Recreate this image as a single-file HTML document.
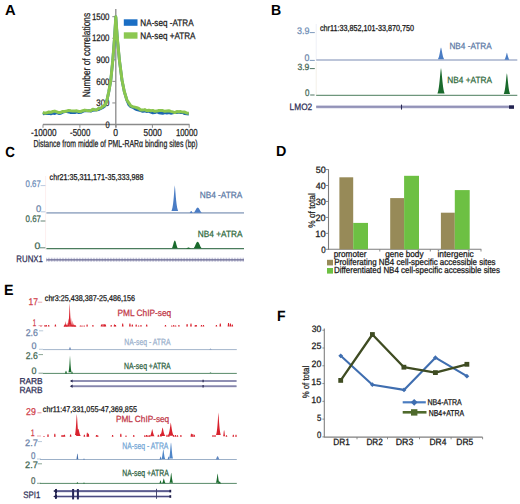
<!DOCTYPE html>
<html><head><meta charset="utf-8"><style>
html,body{margin:0;padding:0;background:#fff;}
svg{display:block;font-family:"Liberation Sans", sans-serif;text-rendering:geometricPrecision;}

</style></head><body>
<svg width="520" height="504" viewBox="0 0 520 504">
<g >
<rect width="520" height="504" fill="#fff"/>
<text x="4.93" y="14.60" font-size="14.53" fill="#000" stroke="#000" stroke-width="0" font-weight="bold" textLength="10.66" lengthAdjust="spacingAndGlyphs">A</text>
<text x="271.06" y="14.60" font-size="14.53" fill="#000" stroke="#000" stroke-width="0" font-weight="bold" textLength="10.18" lengthAdjust="spacingAndGlyphs">B</text>
<text x="5.35" y="157.40" font-size="14.53" fill="#000" stroke="#000" stroke-width="0" font-weight="bold" textLength="9.61" lengthAdjust="spacingAndGlyphs">C</text>
<text x="276.04" y="155.80" font-size="14.68" fill="#000" stroke="#000" stroke-width="0" font-weight="bold" textLength="10.36" lengthAdjust="spacingAndGlyphs">D</text>
<text x="3.95" y="294.90" font-size="14.83" fill="#000" stroke="#000" stroke-width="0" font-weight="bold" textLength="9.51" lengthAdjust="spacingAndGlyphs">E</text>
<text x="276.96" y="320.80" font-size="14.97" fill="#000" stroke="#000" stroke-width="0" font-weight="bold" textLength="8.55" lengthAdjust="spacingAndGlyphs">F</text>
<line x1="115.8" y1="9" x2="115.8" y2="127.5" stroke="#8a8a8a" stroke-width="1.3"/>
<line x1="43" y1="124.5" x2="189.5" y2="124.5" stroke="#8a8a8a" stroke-width="1.3"/>
<line x1="112.3" y1="124.5" x2="115.8" y2="124.5" stroke="#8a8a8a" stroke-width="1"/>
<text x="105.51" y="127.70" font-size="9.45" fill="#222222" stroke="#222222" stroke-width="0.25" font-weight="normal" textLength="4.19" lengthAdjust="spacingAndGlyphs">0</text>
<line x1="112.3" y1="102.94" x2="115.8" y2="102.94" stroke="#8a8a8a" stroke-width="1"/>
<text x="96.30" y="106.14" font-size="9.45" fill="#222222" stroke="#222222" stroke-width="0.25" font-weight="normal" textLength="13.21" lengthAdjust="spacingAndGlyphs">300</text>
<line x1="112.3" y1="81.38" x2="115.8" y2="81.38" stroke="#8a8a8a" stroke-width="1"/>
<text x="96.19" y="84.58" font-size="9.45" fill="#222222" stroke="#222222" stroke-width="0.25" font-weight="normal" textLength="13.32" lengthAdjust="spacingAndGlyphs">600</text>
<line x1="112.3" y1="59.82000000000001" x2="115.8" y2="59.82000000000001" stroke="#8a8a8a" stroke-width="1"/>
<text x="96.23" y="63.02" font-size="9.45" fill="#222222" stroke="#222222" stroke-width="0.25" font-weight="normal" textLength="13.28" lengthAdjust="spacingAndGlyphs">900</text>
<line x1="112.3" y1="38.260000000000005" x2="115.8" y2="38.260000000000005" stroke="#8a8a8a" stroke-width="1"/>
<text x="91.90" y="41.46" font-size="9.45" fill="#222222" stroke="#222222" stroke-width="0.25" font-weight="normal" textLength="17.61" lengthAdjust="spacingAndGlyphs">1200</text>
<line x1="112.3" y1="16.700000000000003" x2="115.8" y2="16.700000000000003" stroke="#8a8a8a" stroke-width="1"/>
<text x="91.90" y="19.90" font-size="9.45" fill="#222222" stroke="#222222" stroke-width="0.25" font-weight="normal" textLength="17.61" lengthAdjust="spacingAndGlyphs">1500</text>
<line x1="43" y1="124.5" x2="43" y2="127.8" stroke="#8a8a8a" stroke-width="1"/>
<line x1="79.9" y1="124.5" x2="79.9" y2="127.8" stroke="#8a8a8a" stroke-width="1"/>
<line x1="116" y1="124.5" x2="116" y2="127.8" stroke="#8a8a8a" stroke-width="1"/>
<line x1="152.4" y1="124.5" x2="152.4" y2="127.8" stroke="#8a8a8a" stroke-width="1"/>
<line x1="189.2" y1="124.5" x2="189.2" y2="127.8" stroke="#8a8a8a" stroke-width="1"/>
<text x="31.04" y="136.30" font-size="10.17" fill="#222222" stroke="#222222" stroke-width="0.25" font-weight="normal" textLength="25.48" lengthAdjust="spacingAndGlyphs">-10000</text>
<text x="70.05" y="136.30" font-size="10.17" fill="#222222" stroke="#222222" stroke-width="0.25" font-weight="normal" textLength="20.26" lengthAdjust="spacingAndGlyphs">-5000</text>
<text x="113.36" y="136.30" font-size="10.17" fill="#222222" stroke="#222222" stroke-width="0.25" font-weight="normal" textLength="4.77" lengthAdjust="spacingAndGlyphs">0</text>
<text x="143.57" y="136.30" font-size="10.17" fill="#222222" stroke="#222222" stroke-width="0.25" font-weight="normal" textLength="18.25" lengthAdjust="spacingAndGlyphs">5000</text>
<text x="175.91" y="136.30" font-size="10.17" fill="#222222" stroke="#222222" stroke-width="0.25" font-weight="normal" textLength="21.70" lengthAdjust="spacingAndGlyphs">10000</text>
<text x="33.43" y="147.00" font-size="10.17" fill="#1a1a1a" stroke="#1a1a1a" stroke-width="0.25" font-weight="normal" textLength="164.20" lengthAdjust="spacingAndGlyphs">Distance from middle of PML-RARα binding sites (bp)</text>
<text transform="translate(89.70 97.28) rotate(-90)" x="0" y="0" font-size="10.61" fill="#1a1a1a" stroke="#1a1a1a" stroke-width="0.25" font-weight="normal" textLength="84.39" lengthAdjust="spacingAndGlyphs">Number of correlations</text>
<path d="M42.8,113.8 L44.8,113.6 L46.8,113.7 L48.8,113.5 L50.8,113.9 L52.8,113.2 L54.8,113.6 L56.8,112.6 L58.8,113.5 L60.8,113.3 L62.8,112.2 L64.8,111.7 L66.8,111.7 L68.8,112.0 L70.8,112.7 L72.8,112.6 L74.8,112.6 L76.8,111.9 L78.8,112.6 L80.8,112.4 L82.8,111.5 L84.8,110.7 L86.8,110.8 L88.8,110.6 L90.8,111.2 L92.8,110.3 L94.8,110.2 L96.8,109.8 L98.8,109.6 L100.8,108.6 L102.8,107.5 L104.8,106.2 L106.8,101.1 L107.8,96.4 L108.8,91.7 L110.8,80.2 L112.8,60.2 L114.5,38.2 L115.8,17.0 L117.3,38.2 L119.4,60.2 L122.0,80.2 L124.3,91.7 L125.8,96.7 L126.8,100.0 L128.8,104.7 L130.8,106.7 L132.8,107.3 L134.8,108.7 L136.8,109.6 L138.8,110.1 L140.8,110.6 L142.8,111.4 L144.8,110.8 L146.8,111.7 L148.8,111.2 L150.8,112.2 L152.8,112.8 L154.8,112.6 L156.8,111.8 L158.8,112.8 L160.8,113.0 L162.8,113.3 L164.8,112.7 L166.8,113.1 L168.8,112.6 L170.8,113.3 L172.8,112.9 L174.8,112.5 L176.8,112.5 L178.8,112.2 L180.8,112.6 L182.8,112.5 L184.8,113.7 L186.8,113.9 L188.8,114.0" fill="none" stroke="#1d68b0" stroke-width="2.8" stroke-linejoin="round"/>
<path d="M42.8,112.5 L44.8,113.2 L46.8,112.8 L48.8,112.0 L50.8,112.3 L52.8,111.5 L54.8,111.1 L56.8,111.8 L58.8,112.6 L60.8,112.4 L62.8,111.4 L64.8,111.5 L66.8,111.0 L68.8,110.4 L70.8,110.7 L72.8,110.9 L74.8,110.9 L76.8,110.8 L78.8,111.5 L80.8,111.5 L82.8,110.7 L84.8,110.1 L86.8,110.5 L88.8,110.7 L90.8,110.8 L92.8,109.3 L94.8,109.8 L96.8,110.0 L98.8,108.2 L100.8,108.2 L102.8,106.4 L104.8,105.4 L106.8,100.9 L107.8,96.2 L108.8,91.5 L110.8,80.0 L112.8,60.0 L114.5,38.0 L115.8,16.8 L117.3,38.0 L119.4,60.0 L122.0,80.0 L124.3,91.5 L125.8,96.5 L126.8,99.8 L128.8,102.8 L130.8,105.9 L132.8,106.7 L134.8,107.1 L136.8,107.7 L138.8,108.5 L140.8,109.9 L142.8,110.1 L144.8,109.6 L146.8,110.7 L148.8,110.2 L150.8,110.8 L152.8,110.4 L154.8,111.3 L156.8,111.1 L158.8,110.5 L160.8,110.5 L162.8,110.6 L164.8,111.3 L166.8,111.0 L168.8,110.7 L170.8,111.4 L172.8,111.9 L174.8,112.6 L176.8,111.6 L178.8,111.8 L180.8,111.6 L182.8,112.1 L184.8,112.1 L186.8,113.1 L188.8,113.2" fill="none" stroke="#8ac64e" stroke-width="3.0" stroke-linejoin="round"/>
<rect x="123.8" y="19.3" width="13.7" height="6.5" fill="#1a6ec4"/>
<rect x="123.8" y="32.3" width="13.7" height="6.4" fill="#8cc852"/>
<text x="140.34" y="26.40" font-size="9.59" fill="#1a1a1a" stroke="#1a1a1a" stroke-width="0.25" font-weight="normal" textLength="53.28" lengthAdjust="spacingAndGlyphs">NA-seq -ATRA</text>
<text x="140.34" y="39.00" font-size="9.59" fill="#1a1a1a" stroke="#1a1a1a" stroke-width="0.25" font-weight="normal" textLength="55.18" lengthAdjust="spacingAndGlyphs">NA-seq +ATRA</text>
<line x1="316.2" y1="24" x2="316.2" y2="61" stroke="#eef0f6" stroke-width="1"/>
<line x1="316.2" y1="62" x2="316.2" y2="96" stroke="#f3f0e8" stroke-width="1"/>
<text x="297.06" y="33.50" font-size="9.45" fill="#6f8db5" stroke="#6f8db5" stroke-width="0.25" font-weight="normal" textLength="12.47" lengthAdjust="spacingAndGlyphs">3.9</text>
<line x1="309.8" y1="32.6" x2="314.8" y2="32.6" stroke="#6f8db5" stroke-width="0.9"/>
<text x="319.90" y="30.60" font-size="8.72" fill="#141414" stroke="#141414" stroke-width="0.25" font-weight="normal" textLength="94.19" lengthAdjust="spacingAndGlyphs">chr11:33,852,101-33,870,750</text>
<text x="304.56" y="61.10" font-size="9.59" fill="#6c86aa" stroke="#6c86aa" stroke-width="0.25" font-weight="normal" textLength="4.89" lengthAdjust="spacingAndGlyphs">0</text>
<line x1="309.8" y1="60.4" x2="314.8" y2="60.4" stroke="#6f8db5" stroke-width="0.9"/>
<line x1="316.2" y1="60.0" x2="517.3" y2="60.0" stroke="#a6b2cc" stroke-width="1.6"/>
<path d="M437.80,59.25 L438.12,58.78 L438.44,58.12 L438.76,57.26 L439.08,56.14 L439.40,54.77 L439.72,53.18 L440.04,51.44 L440.36,49.70 L440.68,48.21 L441.00,47.40 L441.32,48.21 L441.64,49.70 L441.96,51.44 L442.28,53.18 L442.60,54.77 L442.92,56.14 L443.24,57.26 L443.56,58.12 L443.88,58.78 L444.20,59.25 Z" fill="#4a7cc4" stroke="none" stroke-width="1" />
<path d="M504.40,59.65 L504.65,59.38 L504.90,59.00 L505.15,58.50 L505.40,57.85 L505.65,57.06 L505.90,56.14 L506.15,55.13 L506.40,54.13 L506.65,53.27 L506.90,52.80 L507.15,53.27 L507.40,54.13 L507.65,55.13 L507.90,56.14 L508.15,57.06 L508.40,57.85 L508.65,58.50 L508.90,59.00 L509.15,59.38 L509.40,59.65 Z" fill="#4a7cc4" stroke="none" stroke-width="1" />
<text x="449.44" y="48.80" font-size="9.01" fill="#5c7aa6" stroke="#5c7aa6" stroke-width="0.25" font-weight="normal" textLength="42.18" lengthAdjust="spacingAndGlyphs">NB4 -ATRA</text>
<text x="297.47" y="70.00" font-size="9.01" fill="#3f6450" stroke="#3f6450" stroke-width="0.25" font-weight="normal" textLength="11.93" lengthAdjust="spacingAndGlyphs">3.9</text>
<line x1="309.8" y1="68.6" x2="314.8" y2="68.6" stroke="#3d6650" stroke-width="0.9"/>
<text x="304.89" y="95.70" font-size="9.59" fill="#3d6650" stroke="#3d6650" stroke-width="0.25" font-weight="normal" textLength="4.42" lengthAdjust="spacingAndGlyphs">0</text>
<line x1="310.2" y1="95.0" x2="314.6" y2="95.0" stroke="#3d6650" stroke-width="0.9"/>
<line x1="316.2" y1="95.3" x2="517.3" y2="95.3" stroke="#4a7c5c" stroke-width="1.0"/>
<path d="M437.40,93.55 L437.76,92.60 L438.12,91.31 L438.48,89.58 L438.84,87.36 L439.20,84.59 L439.56,81.30 L439.92,77.60 L440.28,73.73 L440.64,70.18 L441.00,68.00 L441.36,70.18 L441.72,73.73 L442.08,77.60 L442.44,81.30 L442.80,84.59 L443.16,87.36 L443.52,89.58 L443.88,91.31 L444.24,92.60 L444.60,93.55 Z" fill="#196a2c" stroke="none" stroke-width="1" />
<path d="M503.70,93.94 L504.02,93.17 L504.34,92.11 L504.66,90.71 L504.98,88.91 L505.30,86.67 L505.62,84.00 L505.94,80.99 L506.26,77.85 L506.58,74.97 L506.90,73.20 L507.22,74.97 L507.54,77.85 L507.86,80.99 L508.18,84.00 L508.50,86.67 L508.82,88.91 L509.14,90.71 L509.46,92.11 L509.78,93.17 L510.10,93.94 Z" fill="#196a2c" stroke="none" stroke-width="1" />
<text x="447.33" y="82.60" font-size="9.01" fill="#2f6a3c" stroke="#2f6a3c" stroke-width="0.25" font-weight="normal" textLength="44.58" lengthAdjust="spacingAndGlyphs">NB4 +ATRA</text>
<text x="289.62" y="109.60" font-size="9.30" fill="#2e2e56" stroke="#2e2e56" stroke-width="0.25" font-weight="normal" textLength="22.60" lengthAdjust="spacingAndGlyphs">LMO2</text>
<line x1="316.2" y1="106.9" x2="509" y2="106.9" stroke="#a8a8ca" stroke-width="2.7"/>
<line x1="316.2" y1="106.9" x2="509" y2="106.9" stroke="#8484ac" stroke-width="1.0"/>
<rect x="509" y="105.3" width="5" height="3.5" fill="#222250"/>
<line x1="401.5" y1="104.6" x2="401.5" y2="109.6" stroke="#2a2a55" stroke-width="1.1"/>
<line x1="45.6" y1="176" x2="45.6" y2="250" stroke="#fbeaea" stroke-width="0.8"/>
<text x="49.60" y="179.50" font-size="8.58" fill="#141414" stroke="#141414" stroke-width="0.25" font-weight="normal" textLength="93.92" lengthAdjust="spacingAndGlyphs">chr21:35,311,171-35,333,988</text>
<text x="25.59" y="186.80" font-size="9.59" fill="#6c8cb8" stroke="#6c8cb8" stroke-width="0.25" font-weight="normal" textLength="15.20" lengthAdjust="spacingAndGlyphs">0.67</text>
<line x1="40.6" y1="185.6" x2="45.4" y2="185.6" stroke="#a8bcd8" stroke-width="0.8"/>
<text x="35.93" y="211.90" font-size="9.59" fill="#6c86aa" stroke="#6c86aa" stroke-width="0.25" font-weight="normal" textLength="5.24" lengthAdjust="spacingAndGlyphs">0</text>
<line x1="41" y1="211.8" x2="45.4" y2="211.8" stroke="#a8bcd8" stroke-width="0.8"/>
<line x1="46.4" y1="212.9" x2="244" y2="212.9" stroke="#a3b3cb" stroke-width="1.6"/>
<path d="M171.40,211.03 L171.74,210.21 L172.08,209.11 L172.42,207.66 L172.76,205.78 L173.10,203.39 L173.44,200.44 L173.78,196.90 L174.12,192.86 L174.46,188.61 L174.80,185.20 L175.14,188.61 L175.48,192.86 L175.82,196.90 L176.16,200.44 L176.50,203.39 L176.84,205.78 L177.18,207.66 L177.52,209.11 L177.86,210.21 L178.20,211.03 Z" fill="#4a7cc4" stroke="none" stroke-width="1" />
<path d="M189.60,212.94 L189.76,212.83 L189.92,212.67 L190.08,212.46 L190.24,212.20 L190.40,211.91 L190.56,211.61 L190.72,211.35 L190.88,211.15 L191.04,211.03 L191.20,211.00 L191.36,211.03 L191.52,211.15 L191.68,211.35 L191.84,211.61 L192.00,211.91 L192.16,212.20 L192.32,212.46 L192.48,212.67 L192.64,212.83 L192.80,212.94 Z" fill="#4a7cc4" stroke="none" stroke-width="1" />
<path d="M193.50,212.69 L193.92,212.40 L194.34,211.98 L194.76,211.42 L195.18,210.74 L195.60,209.98 L196.02,209.21 L196.44,208.52 L196.86,208.00 L197.28,207.69 L197.70,207.60 L198.12,207.69 L198.54,208.00 L198.96,208.52 L199.38,209.21 L199.80,209.98 L200.22,210.74 L200.64,211.42 L201.06,211.98 L201.48,212.40 L201.90,212.69 Z" fill="#4a7cc4" stroke="none" stroke-width="1" />
<text x="199.63" y="198.20" font-size="9.01" fill="#5c7aa6" stroke="#5c7aa6" stroke-width="0.25" font-weight="normal" textLength="42.79" lengthAdjust="spacingAndGlyphs">NB4 -ATRA</text>
<text x="25.59" y="222.10" font-size="9.59" fill="#3d6650" stroke="#3d6650" stroke-width="0.25" font-weight="normal" textLength="15.41" lengthAdjust="spacingAndGlyphs">0.67</text>
<line x1="40.6" y1="221.0" x2="45.4" y2="221.0" stroke="#3d6650" stroke-width="0.8"/>
<text x="34.49" y="248.50" font-size="9.45" fill="#3d6650" stroke="#3d6650" stroke-width="0.25" font-weight="normal" textLength="5.82" lengthAdjust="spacingAndGlyphs">0</text>
<line x1="40" y1="247.8" x2="45.4" y2="247.8" stroke="#3d6650" stroke-width="0.8"/>
<line x1="46.4" y1="248.6" x2="244" y2="248.6" stroke="#4a7c5c" stroke-width="1.1"/>
<path d="M171.80,248.19 L172.10,247.76 L172.40,247.13 L172.70,246.30 L173.00,245.28 L173.30,244.14 L173.60,243.00 L173.90,241.98 L174.20,241.20 L174.50,240.73 L174.80,240.60 L175.10,240.73 L175.40,241.20 L175.70,241.98 L176.00,243.00 L176.30,244.14 L176.60,245.28 L176.90,246.30 L177.20,247.13 L177.50,247.76 L177.80,248.19 Z" fill="#196a2c" stroke="none" stroke-width="1" />
<path d="M186.00,248.70 L186.25,248.62 L186.50,248.51 L186.75,248.37 L187.00,248.20 L187.25,248.00 L187.50,247.81 L187.75,247.64 L188.00,247.50 L188.25,247.42 L188.50,247.40 L188.75,247.42 L189.00,247.50 L189.25,247.64 L189.50,247.81 L189.75,248.00 L190.00,248.20 L190.25,248.37 L190.50,248.51 L190.75,248.62 L191.00,248.70 Z" fill="#196a2c" stroke="none" stroke-width="1" />
<path d="M193.40,248.28 L193.82,247.91 L194.24,247.37 L194.66,246.66 L195.08,245.79 L195.50,244.82 L195.92,243.85 L196.34,242.98 L196.76,242.31 L197.18,241.91 L197.60,241.80 L198.02,241.91 L198.44,242.31 L198.86,242.98 L199.28,243.85 L199.70,244.82 L200.12,245.79 L200.54,246.66 L200.96,247.37 L201.38,247.91 L201.80,248.28 Z" fill="#196a2c" stroke="none" stroke-width="1" />
<text x="197.83" y="236.50" font-size="9.01" fill="#2f6a3c" stroke="#2f6a3c" stroke-width="0.25" font-weight="normal" textLength="44.58" lengthAdjust="spacingAndGlyphs">NB4 +ATRA</text>
<text x="16.36" y="262.00" font-size="9.45" fill="#2e2e56" stroke="#2e2e56" stroke-width="0.25" font-weight="normal" textLength="26.52" lengthAdjust="spacingAndGlyphs">RUNX1</text>
<line x1="46.4" y1="259.8" x2="244" y2="259.8" stroke="#b0b0cc" stroke-width="4.0" stroke-dasharray="0.7 0.85"/>
<line x1="46.4" y1="259.8" x2="244" y2="259.8" stroke="#666690" stroke-width="1.2"/>
<line x1="328.5" y1="169.2" x2="328.5" y2="249.9" stroke="#7d7d7d" stroke-width="1.1"/>
<line x1="328.0" y1="249.3" x2="481.3" y2="249.3" stroke="#7d7d7d" stroke-width="1.1"/>
<line x1="325.8" y1="249.3" x2="328.5" y2="249.3" stroke="#7d7d7d" stroke-width="0.9"/>
<text x="321.19" y="252.90" font-size="9.16" fill="#1a1a1a" stroke="#1a1a1a" stroke-width="0.25" font-weight="normal" textLength="4.42" lengthAdjust="spacingAndGlyphs">0</text>
<line x1="325.8" y1="233.35000000000002" x2="328.5" y2="233.35000000000002" stroke="#7d7d7d" stroke-width="0.9"/>
<text x="315.29" y="236.95" font-size="9.16" fill="#1a1a1a" stroke="#1a1a1a" stroke-width="0.25" font-weight="normal" textLength="10.37" lengthAdjust="spacingAndGlyphs">10</text>
<line x1="325.8" y1="217.4" x2="328.5" y2="217.4" stroke="#7d7d7d" stroke-width="0.9"/>
<text x="315.54" y="221.00" font-size="9.16" fill="#1a1a1a" stroke="#1a1a1a" stroke-width="0.25" font-weight="normal" textLength="10.11" lengthAdjust="spacingAndGlyphs">20</text>
<line x1="325.8" y1="201.45000000000002" x2="328.5" y2="201.45000000000002" stroke="#7d7d7d" stroke-width="0.9"/>
<text x="315.66" y="205.05" font-size="9.16" fill="#1a1a1a" stroke="#1a1a1a" stroke-width="0.25" font-weight="normal" textLength="9.99" lengthAdjust="spacingAndGlyphs">30</text>
<line x1="325.8" y1="185.5" x2="328.5" y2="185.5" stroke="#7d7d7d" stroke-width="0.9"/>
<text x="315.80" y="189.10" font-size="9.16" fill="#1a1a1a" stroke="#1a1a1a" stroke-width="0.25" font-weight="normal" textLength="9.85" lengthAdjust="spacingAndGlyphs">40</text>
<line x1="325.8" y1="169.55" x2="328.5" y2="169.55" stroke="#7d7d7d" stroke-width="0.9"/>
<text x="315.64" y="173.15" font-size="9.16" fill="#1a1a1a" stroke="#1a1a1a" stroke-width="0.25" font-weight="normal" textLength="10.01" lengthAdjust="spacingAndGlyphs">50</text>
<line x1="379.8" y1="249.3" x2="379.8" y2="251.5" stroke="#7d7d7d" stroke-width="0.9"/>
<line x1="430.3" y1="249.3" x2="430.3" y2="251.5" stroke="#7d7d7d" stroke-width="0.9"/>
<line x1="481.0" y1="249.3" x2="481.0" y2="251.5" stroke="#7d7d7d" stroke-width="0.9"/>
<rect x="339.4" y="177.3017" width="13.800000000000011" height="71.9983" fill="#978a58"/>
<rect x="353.2" y="222.90275000000003" width="14.800000000000011" height="26.39725" fill="#6dc043"/>
<rect x="390.2" y="198.1005" width="13.900000000000034" height="51.1995" fill="#978a58"/>
<rect x="404.1" y="175.80240000000003" width="14.899999999999977" height="73.49759999999999" fill="#6dc043"/>
<rect x="440.9" y="212.69475" width="13.900000000000034" height="36.60525" fill="#978a58"/>
<rect x="454.8" y="190.0936" width="14.899999999999977" height="59.206399999999995" fill="#6dc043"/>
<text transform="translate(314.60 227.69) rotate(-90)" x="0" y="0" font-size="9.45" fill="#1a1a1a" stroke="#1a1a1a" stroke-width="0.25" font-weight="normal" textLength="34.45" lengthAdjust="spacingAndGlyphs">% of total</text>
<text x="333.77" y="256.50" font-size="9.01" fill="#141414" stroke="#141414" stroke-width="0.25" font-weight="normal" textLength="32.76" lengthAdjust="spacingAndGlyphs">promoter</text>
<text x="385.26" y="256.50" font-size="9.01" fill="#141414" stroke="#141414" stroke-width="0.25" font-weight="normal" textLength="38.26" lengthAdjust="spacingAndGlyphs">gene body</text>
<text x="437.44" y="256.50" font-size="9.01" fill="#141414" stroke="#141414" stroke-width="0.25" font-weight="normal" textLength="36.38" lengthAdjust="spacingAndGlyphs">intergenic</text>
<rect x="327.0" y="259.8" width="6.0" height="5.6" fill="#978a58"/>
<rect x="327.0" y="268.0" width="6.0" height="5.6" fill="#6dc043"/>
<text x="334.15" y="264.80" font-size="8.87" fill="#141414" stroke="#141414" stroke-width="0.25" font-weight="normal" textLength="161.44" lengthAdjust="spacingAndGlyphs">Proliferating NB4 cell-specific accessible sites</text>
<text x="334.05" y="272.90" font-size="8.87" fill="#141414" stroke="#141414" stroke-width="0.25" font-weight="normal" textLength="165.94" lengthAdjust="spacingAndGlyphs">Differentiated NB4 cell-specific accessible sites</text>
<text x="44.79" y="301.00" font-size="8.43" fill="#141414" stroke="#141414" stroke-width="0.25" font-weight="normal" textLength="90.32" lengthAdjust="spacingAndGlyphs">chr3:25,438,387-25,486,156</text>
<text x="28.45" y="304.90" font-size="9.74" fill="#d0404a" stroke="#d0404a" stroke-width="0.25" font-weight="normal" textLength="9.48" lengthAdjust="spacingAndGlyphs">17</text>
<line x1="37.8" y1="302.2" x2="42.2" y2="302.2" stroke="#e8a0a8" stroke-width="0.9"/>
<text x="32.74" y="325.70" font-size="9.74" fill="#d0404a" stroke="#d0404a" stroke-width="0.25" font-weight="normal" textLength="3.35" lengthAdjust="spacingAndGlyphs">1</text>
<line x1="38.5" y1="325.6" x2="42.5" y2="325.6" stroke="#e8a0a8" stroke-width="0.9"/>
<path d="M40.15,326.60 L40.55,325.80 L41.45,325.80 L41.85,326.60 Z" fill="#d8222e" stroke="none" stroke-width="1" />
<path d="M44.15,326.60 L44.55,325.10 L45.45,325.10 L45.85,326.60 Z" fill="#d8222e" stroke="none" stroke-width="1" />
<path d="M45.45,326.60 L45.85,325.10 L46.75,325.10 L47.15,326.60 Z" fill="#d8222e" stroke="none" stroke-width="1" />
<path d="M47.85,326.60 L48.25,325.10 L49.15,325.10 L49.55,326.60 Z" fill="#d8222e" stroke="none" stroke-width="1" />
<path d="M54.55,326.60 L54.95,324.40 L55.85,324.40 L56.25,326.60 Z" fill="#d8222e" stroke="none" stroke-width="1" />
<path d="M79.55,326.60 L79.95,325.60 L80.85,325.60 L81.25,326.60 Z" fill="#d8222e" stroke="none" stroke-width="1" />
<path d="M81.15,326.60 L81.55,325.60 L82.45,325.60 L82.85,326.60 Z" fill="#d8222e" stroke="none" stroke-width="1" />
<path d="M83.35,326.60 L83.75,325.40 L84.65,325.40 L85.05,326.60 Z" fill="#d8222e" stroke="none" stroke-width="1" />
<path d="M86.25,326.60 L86.65,324.40 L87.55,324.40 L87.95,326.60 Z" fill="#d8222e" stroke="none" stroke-width="1" />
<path d="M92.05,326.60 L92.45,325.00 L93.35,325.00 L93.75,326.60 Z" fill="#d8222e" stroke="none" stroke-width="1" />
<path d="M100.65,326.60 L101.05,324.40 L101.95,324.40 L102.35,326.60 Z" fill="#d8222e" stroke="none" stroke-width="1" />
<path d="M102.15,326.60 L102.55,324.00 L103.45,324.00 L103.85,326.60 Z" fill="#d8222e" stroke="none" stroke-width="1" />
<path d="M103.55,326.60 L103.95,324.20 L104.85,324.20 L105.25,326.60 Z" fill="#d8222e" stroke="none" stroke-width="1" />
<path d="M104.55,326.60 L104.95,324.60 L105.85,324.60 L106.25,326.60 Z" fill="#d8222e" stroke="none" stroke-width="1" />
<path d="M110.35,326.60 L110.75,325.00 L111.65,325.00 L112.05,326.60 Z" fill="#d8222e" stroke="none" stroke-width="1" />
<path d="M113.65,326.60 L114.05,324.40 L114.95,324.40 L115.35,326.60 Z" fill="#d8222e" stroke="none" stroke-width="1" />
<path d="M114.65,326.60 L115.05,325.00 L115.95,325.00 L116.35,326.60 Z" fill="#d8222e" stroke="none" stroke-width="1" />
<path d="M121.85,326.60 L122.25,323.40 L123.15,323.40 L123.55,326.60 Z" fill="#d8222e" stroke="none" stroke-width="1" />
<path d="M129.05,326.60 L129.45,323.40 L130.35,323.40 L130.75,326.60 Z" fill="#d8222e" stroke="none" stroke-width="1" />
<path d="M131.45,326.60 L131.85,324.40 L132.75,324.40 L133.15,326.60 Z" fill="#d8222e" stroke="none" stroke-width="1" />
<path d="M135.35,326.60 L135.75,324.40 L136.65,324.40 L137.05,326.60 Z" fill="#d8222e" stroke="none" stroke-width="1" />
<path d="M137.75,326.60 L138.15,325.40 L139.05,325.40 L139.45,326.60 Z" fill="#d8222e" stroke="none" stroke-width="1" />
<path d="M140.15,326.60 L140.55,325.00 L141.45,325.00 L141.85,326.60 Z" fill="#d8222e" stroke="none" stroke-width="1" />
<path d="M145.85,326.60 L146.25,324.40 L147.15,324.40 L147.55,326.60 Z" fill="#d8222e" stroke="none" stroke-width="1" />
<path d="M164.65,326.60 L165.05,325.00 L165.95,325.00 L166.35,326.60 Z" fill="#d8222e" stroke="none" stroke-width="1" />
<path d="M170.85,326.60 L171.25,325.40 L172.15,325.40 L172.55,326.60 Z" fill="#d8222e" stroke="none" stroke-width="1" />
<path d="M172.85,326.60 L173.25,325.00 L174.15,325.00 L174.55,326.60 Z" fill="#d8222e" stroke="none" stroke-width="1" />
<path d="M174.75,326.60 L175.15,325.40 L176.05,325.40 L176.45,326.60 Z" fill="#d8222e" stroke="none" stroke-width="1" />
<path d="M178.05,326.60 L178.45,325.00 L179.35,325.00 L179.75,326.60 Z" fill="#d8222e" stroke="none" stroke-width="1" />
<path d="M186.25,326.60 L186.65,324.00 L187.55,324.00 L187.95,326.60 Z" fill="#d8222e" stroke="none" stroke-width="1" />
<path d="M190.15,326.60 L190.55,323.60 L191.45,323.60 L191.85,326.60 Z" fill="#d8222e" stroke="none" stroke-width="1" />
<path d="M194.45,326.60 L194.85,325.00 L195.75,325.00 L196.15,326.60 Z" fill="#d8222e" stroke="none" stroke-width="1" />
<path d="M195.45,326.60 L195.85,325.00 L196.75,325.00 L197.15,326.60 Z" fill="#d8222e" stroke="none" stroke-width="1" />
<path d="M200.65,326.60 L201.05,325.00 L201.95,325.00 L202.35,326.60 Z" fill="#d8222e" stroke="none" stroke-width="1" />
<path d="M202.65,326.60 L203.05,325.00 L203.95,325.00 L204.35,326.60 Z" fill="#d8222e" stroke="none" stroke-width="1" />
<path d="M215.55,326.60 L215.95,325.00 L216.85,325.00 L217.25,326.60 Z" fill="#d8222e" stroke="none" stroke-width="1" />
<path d="M219.45,326.60 L219.85,323.60 L220.75,323.60 L221.15,326.60 Z" fill="#d8222e" stroke="none" stroke-width="1" />
<path d="M227.65,326.60 L228.05,323.10 L228.95,323.10 L229.35,326.60 Z" fill="#d8222e" stroke="none" stroke-width="1" />
<path d="M229.55,326.60 L229.95,323.40 L230.85,323.40 L231.25,326.60 Z" fill="#d8222e" stroke="none" stroke-width="1" />
<path d="M231.45,326.60 L231.85,324.60 L232.75,324.60 L233.15,326.60 Z" fill="#d8222e" stroke="none" stroke-width="1" />
<path d="M63.50,326.41 L63.58,326.33 L63.66,326.23 L63.74,326.08 L63.82,325.90 L63.90,325.67 L63.98,325.38 L64.06,325.06 L64.14,324.70 L64.22,324.35 L64.30,324.10 L64.38,324.35 L64.46,324.70 L64.54,325.06 L64.62,325.38 L64.70,325.67 L64.78,325.90 L64.86,326.08 L64.94,326.23 L65.02,326.33 L65.10,326.41 Z" fill="#d8222e" stroke="none" stroke-width="1" />
<path d="M64.50,326.19 L64.59,326.02 L64.68,325.78 L64.77,325.46 L64.86,325.06 L64.95,324.55 L65.04,323.93 L65.13,323.20 L65.22,322.41 L65.31,321.64 L65.40,321.10 L65.49,321.64 L65.58,322.41 L65.67,323.20 L65.76,323.93 L65.85,324.55 L65.94,325.06 L66.03,325.46 L66.12,325.78 L66.21,326.02 L66.30,326.19 Z" fill="#d8222e" stroke="none" stroke-width="1" />
<path d="M65.80,326.38 L65.88,326.28 L65.96,326.15 L66.04,325.98 L66.12,325.76 L66.20,325.48 L66.28,325.14 L66.36,324.75 L66.44,324.32 L66.52,323.89 L66.60,323.60 L66.68,323.89 L66.76,324.32 L66.84,324.75 L66.92,325.14 L67.00,325.48 L67.08,325.76 L67.16,325.98 L67.24,326.15 L67.32,326.28 L67.40,326.38 Z" fill="#d8222e" stroke="none" stroke-width="1" />
<path d="M67.00,326.30 L67.08,326.18 L67.16,326.00 L67.24,325.77 L67.32,325.48 L67.40,325.11 L67.48,324.65 L67.56,324.13 L67.64,323.56 L67.72,322.99 L67.80,322.60 L67.88,322.99 L67.96,323.56 L68.04,324.13 L68.12,324.65 L68.20,325.11 L68.28,325.48 L68.36,325.77 L68.44,326.00 L68.52,326.18 L68.60,326.30 Z" fill="#d8222e" stroke="none" stroke-width="1" />
<path d="M67.80,326.01 L67.90,325.75 L68.00,325.41 L68.10,324.95 L68.20,324.36 L68.30,323.61 L68.40,322.71 L68.50,321.66 L68.60,320.51 L68.70,319.39 L68.80,318.60 L68.90,319.39 L69.00,320.51 L69.10,321.66 L69.20,322.71 L69.30,323.61 L69.40,324.36 L69.50,324.95 L69.60,325.41 L69.70,325.75 L69.80,326.01 Z" fill="#d8222e" stroke="none" stroke-width="1" />
<path d="M70.00,325.93 L70.10,325.65 L70.20,325.26 L70.30,324.74 L70.40,324.08 L70.50,323.24 L70.60,322.22 L70.70,321.04 L70.80,319.75 L70.90,318.48 L71.00,317.60 L71.10,318.48 L71.20,319.75 L71.30,321.04 L71.40,322.22 L71.50,323.24 L71.60,324.08 L71.70,324.74 L71.80,325.26 L71.90,325.65 L72.00,325.93 Z" fill="#d8222e" stroke="none" stroke-width="1" />
<path d="M71.30,326.15 L71.39,325.96 L71.48,325.70 L71.57,325.36 L71.66,324.92 L71.75,324.36 L71.84,323.68 L71.93,322.89 L72.02,322.03 L72.11,321.19 L72.20,320.60 L72.29,321.19 L72.38,322.03 L72.47,322.89 L72.56,323.68 L72.65,324.36 L72.74,324.92 L72.83,325.36 L72.92,325.70 L73.01,325.96 L73.10,326.15 Z" fill="#d8222e" stroke="none" stroke-width="1" />
<path d="M72.40,326.34 L72.49,326.23 L72.58,326.08 L72.67,325.88 L72.76,325.62 L72.85,325.29 L72.94,324.90 L73.03,324.44 L73.12,323.94 L73.21,323.44 L73.30,323.10 L73.39,323.44 L73.48,323.94 L73.57,324.44 L73.66,324.90 L73.75,325.29 L73.84,325.62 L73.93,325.88 L74.02,326.08 L74.11,326.23 L74.20,326.34 Z" fill="#d8222e" stroke="none" stroke-width="1" />
<path d="M73.70,326.45 L73.79,326.39 L73.88,326.30 L73.97,326.19 L74.06,326.04 L74.15,325.85 L74.24,325.63 L74.33,325.36 L74.42,325.08 L74.51,324.80 L74.60,324.60 L74.69,324.80 L74.78,325.08 L74.87,325.36 L74.96,325.63 L75.05,325.85 L75.14,326.04 L75.23,326.19 L75.32,326.30 L75.41,326.39 L75.50,326.45 Z" fill="#d8222e" stroke="none" stroke-width="1" />
<path d="M75.00,326.51 L75.08,326.47 L75.16,326.42 L75.24,326.35 L75.32,326.26 L75.40,326.15 L75.48,326.02 L75.56,325.86 L75.64,325.69 L75.72,325.52 L75.80,325.40 L75.88,325.52 L75.96,325.69 L76.04,325.86 L76.12,326.02 L76.20,326.15 L76.28,326.26 L76.36,326.35 L76.44,326.42 L76.52,326.47 L76.60,326.51 Z" fill="#d8222e" stroke="none" stroke-width="1" />
<path d="M68.20,324.83 L68.35,324.13 L68.50,323.20 L68.65,321.96 L68.80,320.36 L68.95,318.32 L69.10,315.80 L69.25,312.78 L69.40,309.33 L69.55,305.71 L69.70,302.80 L69.85,305.71 L70.00,309.33 L70.15,312.78 L70.30,315.80 L70.45,318.32 L70.60,320.36 L70.75,321.96 L70.90,323.20 L71.05,324.13 L71.20,324.83 Z" fill="#d8222e" stroke="none" stroke-width="1" />
<rect x="64" y="325.40000000000003" width="12" height="1.2" fill="#d8222e"/>
<text x="117.42" y="315.80" font-size="9.16" fill="#bf3646" stroke="#bf3646" stroke-width="0.25" font-weight="normal" textLength="53.81" lengthAdjust="spacingAndGlyphs">PML ChIP-seq</text>
<text x="25.66" y="335.70" font-size="9.74" fill="#6a82a8" stroke="#6a82a8" stroke-width="0.25" font-weight="normal" textLength="12.23" lengthAdjust="spacingAndGlyphs">2.6</text>
<line x1="39" y1="330.8" x2="43.2" y2="330.8" stroke="#a8bcd0" stroke-width="0.8"/>
<text x="31.45" y="349.10" font-size="9.45" fill="#6a82a8" stroke="#6a82a8" stroke-width="0.25" font-weight="normal" textLength="5.00" lengthAdjust="spacingAndGlyphs">0</text>
<line x1="39" y1="349.3" x2="43" y2="349.3" stroke="#a8bcd0" stroke-width="0.8"/>
<line x1="43" y1="349.6" x2="236.8" y2="349.6" stroke="#a4b6cc" stroke-width="1.0"/>
<path d="M68.80,349.58 L68.92,349.47 L69.04,349.33 L69.16,349.15 L69.28,348.90 L69.40,348.60 L69.52,348.25 L69.64,347.84 L69.76,347.42 L69.88,347.04 L70.00,346.80 L70.12,347.04 L70.24,347.42 L70.36,347.84 L70.48,348.25 L70.60,348.60 L70.72,348.90 L70.84,349.15 L70.96,349.33 L71.08,349.47 L71.20,349.58 Z" fill="#4a6ea8" stroke="none" stroke-width="1" />
<path d="M209.10,349.71 L209.24,349.65 L209.38,349.56 L209.52,349.43 L209.66,349.28 L209.80,349.12 L209.94,348.95 L210.08,348.80 L210.22,348.69 L210.36,348.62 L210.50,348.60 L210.64,348.62 L210.78,348.69 L210.92,348.80 L211.06,348.95 L211.20,349.12 L211.34,349.28 L211.48,349.43 L211.62,349.56 L211.76,349.65 L211.90,349.71 Z" fill="#8aa0c0" stroke="none" stroke-width="1" />
<text x="124.35" y="344.70" font-size="9.01" fill="#9ab0cc" stroke="#9ab0cc" stroke-width="0.25" font-weight="normal" textLength="46.16" lengthAdjust="spacingAndGlyphs">NA-seq - ATRA</text>
<text x="25.66" y="359.20" font-size="9.74" fill="#3d6650" stroke="#3d6650" stroke-width="0.25" font-weight="normal" textLength="12.12" lengthAdjust="spacingAndGlyphs">2.6</text>
<line x1="38.5" y1="354.6" x2="43" y2="354.6" stroke="#6f8f7a" stroke-width="0.8"/>
<text x="31.45" y="373.50" font-size="9.45" fill="#3d6650" stroke="#3d6650" stroke-width="0.25" font-weight="normal" textLength="5.00" lengthAdjust="spacingAndGlyphs">0</text>
<line x1="38.5" y1="373.2" x2="43" y2="373.2" stroke="#6f8f7a" stroke-width="0.8"/>
<line x1="43" y1="373.4" x2="236.8" y2="373.4" stroke="#588a68" stroke-width="1.0"/>
<path d="M64.80,373.39 L64.92,373.24 L65.04,373.03 L65.16,372.75 L65.28,372.40 L65.40,372.01 L65.52,371.62 L65.64,371.27 L65.76,371.00 L65.88,370.85 L66.00,370.80 L66.12,370.85 L66.24,371.00 L66.36,371.27 L66.48,371.62 L66.60,372.01 L66.72,372.40 L66.84,372.75 L66.96,373.03 L67.08,373.24 L67.20,373.39 Z" fill="#196a2c" stroke="none" stroke-width="1" />
<path d="M68.40,372.26 L68.56,371.74 L68.72,371.03 L68.88,370.09 L69.04,368.88 L69.20,367.34 L69.36,365.43 L69.52,363.15 L69.68,360.54 L69.84,357.80 L70.00,355.60 L70.16,357.80 L70.32,360.54 L70.48,363.15 L70.64,365.43 L70.80,367.34 L70.96,368.88 L71.12,370.09 L71.28,371.03 L71.44,371.74 L71.60,372.26 Z" fill="#196a2c" stroke="none" stroke-width="1" />
<path d="M71.00,373.44 L71.10,373.33 L71.20,373.17 L71.30,372.96 L71.40,372.70 L71.50,372.41 L71.60,372.11 L71.70,371.85 L71.80,371.65 L71.90,371.53 L72.00,371.50 L72.10,371.53 L72.20,371.65 L72.30,371.85 L72.40,372.11 L72.50,372.41 L72.60,372.70 L72.70,372.96 L72.80,373.17 L72.90,373.33 L73.00,373.44 Z" fill="#196a2c" stroke="none" stroke-width="1" />
<path d="M209.10,373.50 L209.24,373.42 L209.38,373.31 L209.52,373.17 L209.66,373.00 L209.80,372.80 L209.94,372.61 L210.08,372.44 L210.22,372.30 L210.36,372.22 L210.50,372.20 L210.64,372.22 L210.78,372.30 L210.92,372.44 L211.06,372.61 L211.20,372.80 L211.34,373.00 L211.48,373.17 L211.62,373.31 L211.76,373.42 L211.90,373.50 Z" fill="#6a9a7a" stroke="none" stroke-width="1" />
<text x="124.04" y="368.90" font-size="9.01" fill="#2b5e3e" stroke="#2b5e3e" stroke-width="0.25" font-weight="normal" textLength="46.67" lengthAdjust="spacingAndGlyphs">NA-seq +ATRA</text>
<text x="19.41" y="383.80" font-size="8.72" fill="#2e2e56" stroke="#2e2e56" stroke-width="0.25" font-weight="normal" textLength="23.23" lengthAdjust="spacingAndGlyphs">RARB</text>
<text x="19.41" y="392.50" font-size="8.87" fill="#2e2e56" stroke="#2e2e56" stroke-width="0.25" font-weight="normal" textLength="23.23" lengthAdjust="spacingAndGlyphs">RARB</text>
<line x1="71" y1="381.0" x2="236.5" y2="381.0" stroke="#a8a8c8" stroke-width="2.1"/>
<line x1="71" y1="381.0" x2="236.5" y2="381.0" stroke="#76769e" stroke-width="1.0"/>
<path d="M69.8,381.0 L72.6,379.4 L72.6,382.6 Z" fill="#2a2a55" stroke="none" stroke-width="1" />
<line x1="71" y1="386.2" x2="236.5" y2="386.2" stroke="#a8a8c8" stroke-width="2.1"/>
<line x1="71" y1="386.2" x2="236.5" y2="386.2" stroke="#76769e" stroke-width="1.0"/>
<path d="M69.8,386.2 L72.6,384.59999999999997 L72.6,387.8 Z" fill="#2a2a55" stroke="none" stroke-width="1" />
<line x1="203.1" y1="379.8" x2="203.1" y2="382.2" stroke="#2a2a55" stroke-width="1.2"/>
<line x1="203.1" y1="384.9" x2="203.1" y2="387.6" stroke="#2a2a55" stroke-width="1.2"/>
<text x="42.80" y="412.30" font-size="8.28" fill="#141414" stroke="#141414" stroke-width="0.25" font-weight="normal" textLength="94.11" lengthAdjust="spacingAndGlyphs">chr11:47,331,055-47,369,855</text>
<text x="26.06" y="415.20" font-size="10.03" fill="#d0404a" stroke="#d0404a" stroke-width="0.25" font-weight="normal" textLength="9.76" lengthAdjust="spacingAndGlyphs">29</text>
<line x1="37.4" y1="412.8" x2="41.5" y2="412.8" stroke="#e08890" stroke-width="0.9"/>
<text x="30.87" y="435.70" font-size="9.45" fill="#d0404a" stroke="#d0404a" stroke-width="0.25" font-weight="normal" textLength="3.87" lengthAdjust="spacingAndGlyphs">1</text>
<line x1="37" y1="436.0" x2="41" y2="436.0" stroke="#e8a0a8" stroke-width="0.9"/>
<path d="M43.15,436.70 L43.55,435.90 L44.45,435.90 L44.85,436.70 Z" fill="#d8222e" stroke="none" stroke-width="1" />
<path d="M47.15,436.70 L47.55,434.20 L48.45,434.20 L48.85,436.70 Z" fill="#d8222e" stroke="none" stroke-width="1" />
<path d="M53.95,436.70 L54.35,433.70 L55.25,433.70 L55.65,436.70 Z" fill="#d8222e" stroke="none" stroke-width="1" />
<path d="M61.15,436.70 L61.55,434.90 L62.45,434.90 L62.85,436.70 Z" fill="#d8222e" stroke="none" stroke-width="1" />
<path d="M62.35,436.70 L62.75,435.10 L63.65,435.10 L64.05,436.70 Z" fill="#d8222e" stroke="none" stroke-width="1" />
<path d="M63.65,436.70 L64.05,434.70 L64.95,434.70 L65.35,436.70 Z" fill="#d8222e" stroke="none" stroke-width="1" />
<path d="M69.75,436.70 L70.15,434.50 L71.05,434.50 L71.45,436.70 Z" fill="#d8222e" stroke="none" stroke-width="1" />
<path d="M83.55,436.70 L83.95,434.70 L84.85,434.70 L85.25,436.70 Z" fill="#d8222e" stroke="none" stroke-width="1" />
<path d="M86.45,436.70 L86.85,432.70 L87.75,432.70 L88.15,436.70 Z" fill="#d8222e" stroke="none" stroke-width="1" />
<path d="M87.55,436.70 L87.95,433.70 L88.85,433.70 L89.25,436.70 Z" fill="#d8222e" stroke="none" stroke-width="1" />
<path d="M95.65,436.70 L96.05,435.10 L96.95,435.10 L97.35,436.70 Z" fill="#d8222e" stroke="none" stroke-width="1" />
<path d="M96.85,436.70 L97.25,435.30 L98.15,435.30 L98.55,436.70 Z" fill="#d8222e" stroke="none" stroke-width="1" />
<path d="M111.75,436.70 L112.15,435.10 L113.05,435.10 L113.45,436.70 Z" fill="#d8222e" stroke="none" stroke-width="1" />
<path d="M119.95,436.70 L120.35,433.70 L121.25,433.70 L121.65,436.70 Z" fill="#d8222e" stroke="none" stroke-width="1" />
<path d="M125.15,436.70 L125.55,435.50 L126.45,435.50 L126.85,436.70 Z" fill="#d8222e" stroke="none" stroke-width="1" />
<path d="M132.90,436.70 L133.30,435.10 L134.20,435.10 L134.60,436.70 Z" fill="#d8222e" stroke="none" stroke-width="1" />
<path d="M143.95,436.70 L144.35,435.30 L145.25,435.30 L145.65,436.70 Z" fill="#d8222e" stroke="none" stroke-width="1" />
<path d="M145.65,436.70 L146.05,435.10 L146.95,435.10 L147.35,436.70 Z" fill="#d8222e" stroke="none" stroke-width="1" />
<path d="M147.15,436.70 L147.55,435.30 L148.45,435.30 L148.85,436.70 Z" fill="#d8222e" stroke="none" stroke-width="1" />
<path d="M148.75,436.70 L149.15,435.30 L150.05,435.30 L150.45,436.70 Z" fill="#d8222e" stroke="none" stroke-width="1" />
<path d="M157.45,436.70 L157.85,434.70 L158.75,434.70 L159.15,436.70 Z" fill="#d8222e" stroke="none" stroke-width="1" />
<path d="M166.15,436.70 L166.55,434.70 L167.45,434.70 L167.85,436.70 Z" fill="#d8222e" stroke="none" stroke-width="1" />
<path d="M167.95,436.70 L168.35,434.70 L169.25,434.70 L169.65,436.70 Z" fill="#d8222e" stroke="none" stroke-width="1" />
<path d="M172.75,436.70 L173.15,435.10 L174.05,435.10 L174.45,436.70 Z" fill="#d8222e" stroke="none" stroke-width="1" />
<path d="M174.65,436.70 L175.05,435.10 L175.95,435.10 L176.35,436.70 Z" fill="#d8222e" stroke="none" stroke-width="1" />
<path d="M176.65,436.70 L177.05,435.30 L177.95,435.30 L178.35,436.70 Z" fill="#d8222e" stroke="none" stroke-width="1" />
<path d="M180.05,436.70 L180.45,435.10 L181.35,435.10 L181.75,436.70 Z" fill="#d8222e" stroke="none" stroke-width="1" />
<path d="M190.55,436.70 L190.95,433.70 L191.85,433.70 L192.25,436.70 Z" fill="#d8222e" stroke="none" stroke-width="1" />
<path d="M191.95,436.70 L192.35,434.10 L193.25,434.10 L193.65,436.70 Z" fill="#d8222e" stroke="none" stroke-width="1" />
<path d="M193.45,436.70 L193.85,434.70 L194.75,434.70 L195.15,436.70 Z" fill="#d8222e" stroke="none" stroke-width="1" />
<path d="M212.15,436.70 L212.55,434.90 L213.45,434.90 L213.85,436.70 Z" fill="#d8222e" stroke="none" stroke-width="1" />
<path d="M214.15,436.70 L214.55,434.90 L215.45,434.90 L215.85,436.70 Z" fill="#d8222e" stroke="none" stroke-width="1" />
<path d="M225.65,436.70 L226.05,435.20 L226.95,435.20 L227.35,436.70 Z" fill="#d8222e" stroke="none" stroke-width="1" />
<path d="M232.45,436.70 L232.85,434.70 L233.75,434.70 L234.15,436.70 Z" fill="#d8222e" stroke="none" stroke-width="1" />
<path d="M235.15,436.70 L235.55,434.70 L236.45,434.70 L236.85,436.70 Z" fill="#d8222e" stroke="none" stroke-width="1" />
<path d="M74.90,435.02 L75.09,434.25 L75.28,433.18 L75.47,431.77 L75.66,429.95 L75.85,427.69 L76.04,424.99 L76.23,421.96 L76.42,418.79 L76.61,415.88 L76.80,414.10 L76.99,415.88 L77.18,418.79 L77.37,421.96 L77.56,424.99 L77.75,427.69 L77.94,429.95 L78.13,431.77 L78.32,433.18 L78.51,434.25 L78.70,435.02 Z" fill="#d8222e" stroke="none" stroke-width="1" />
<path d="M75.70,436.11 L75.96,435.81 L76.22,435.40 L76.48,434.86 L76.74,434.16 L77.00,433.31 L77.26,432.31 L77.52,431.22 L77.78,430.14 L78.04,429.21 L78.30,428.70 L78.56,429.21 L78.82,430.14 L79.08,431.22 L79.34,432.31 L79.60,433.31 L79.86,434.16 L80.12,434.86 L80.38,435.40 L80.64,435.81 L80.90,436.11 Z" fill="#d8222e" stroke="none" stroke-width="1" />
<path d="M149.80,436.14 L150.04,435.89 L150.28,435.57 L150.52,435.13 L150.76,434.57 L151.00,433.86 L151.24,433.00 L151.48,432.01 L151.72,430.92 L151.96,429.85 L152.20,429.10 L152.44,429.85 L152.68,430.92 L152.92,432.01 L153.16,433.00 L153.40,433.86 L153.64,434.57 L153.88,435.13 L154.12,435.57 L154.36,435.89 L154.60,436.14 Z" fill="#d8222e" stroke="none" stroke-width="1" />
<path d="M159.40,436.48 L159.53,436.32 L159.66,436.09 L159.79,435.78 L159.92,435.41 L160.05,435.00 L160.18,434.58 L160.31,434.20 L160.44,433.92 L160.57,433.75 L160.70,433.70 L160.83,433.75 L160.96,433.92 L161.09,434.20 L161.22,434.58 L161.35,435.00 L161.48,435.41 L161.61,435.78 L161.74,436.09 L161.87,436.32 L162.00,436.48 Z" fill="#d8222e" stroke="none" stroke-width="1" />
<path d="M159.80,436.01 L160.08,435.71 L160.36,435.31 L160.64,434.78 L160.92,434.09 L161.20,433.23 L161.48,432.18 L161.76,430.96 L162.04,429.62 L162.32,428.31 L162.60,427.40 L162.88,428.31 L163.16,429.62 L163.44,430.96 L163.72,432.18 L164.00,433.23 L164.28,434.09 L164.56,434.78 L164.84,435.31 L165.12,435.71 L165.40,436.01 Z" fill="#d8222e" stroke="none" stroke-width="1" />
<path d="M167.80,435.65 L168.10,435.23 L168.40,434.67 L168.70,433.93 L169.00,432.98 L169.30,431.76 L169.60,430.26 L169.90,428.45 L170.20,426.40 L170.50,424.23 L170.80,422.50 L171.10,424.23 L171.40,426.40 L171.70,428.45 L172.00,430.26 L172.30,431.76 L172.60,432.98 L172.90,433.93 L173.20,434.67 L173.50,435.23 L173.80,435.65 Z" fill="#d8222e" stroke="none" stroke-width="1" />
<path d="M216.00,434.90 L216.24,434.19 L216.48,433.24 L216.72,431.98 L216.96,430.35 L217.20,428.28 L217.44,425.72 L217.68,422.65 L217.92,419.14 L218.16,415.46 L218.40,412.50 L218.64,415.46 L218.88,419.14 L219.12,422.65 L219.36,425.72 L219.60,428.28 L219.84,430.35 L220.08,431.98 L220.32,433.24 L220.56,434.19 L220.80,434.90 Z" fill="#d8222e" stroke="none" stroke-width="1" />
<path d="M223.10,436.22 L223.20,435.87 L223.30,435.38 L223.40,434.72 L223.50,433.91 L223.60,433.01 L223.70,432.10 L223.80,431.29 L223.90,430.67 L224.00,430.31 L224.10,430.20 L224.20,430.31 L224.30,430.67 L224.40,431.29 L224.50,432.10 L224.60,433.01 L224.70,433.91 L224.80,434.72 L224.90,435.38 L225.00,435.87 L225.10,436.22 Z" fill="#d8222e" stroke="none" stroke-width="1" />
<text x="115.93" y="422.00" font-size="9.01" fill="#bf3646" stroke="#bf3646" stroke-width="0.25" font-weight="normal" textLength="53.30" lengthAdjust="spacingAndGlyphs">PML ChIP-seq</text>
<text x="25.04" y="445.50" font-size="9.30" fill="#6a82a8" stroke="#6a82a8" stroke-width="0.25" font-weight="normal" textLength="12.83" lengthAdjust="spacingAndGlyphs">2.7</text>
<line x1="37.6" y1="441.6" x2="42" y2="441.6" stroke="#a8bcd0" stroke-width="0.8"/>
<text x="30.99" y="459.10" font-size="9.74" fill="#6a82a8" stroke="#6a82a8" stroke-width="0.25" font-weight="normal" textLength="4.42" lengthAdjust="spacingAndGlyphs">0</text>
<line x1="37" y1="459.0" x2="41" y2="459.0" stroke="#a8bcd0" stroke-width="0.8"/>
<line x1="40" y1="459.5" x2="236.8" y2="459.5" stroke="#9cb0c8" stroke-width="1.0"/>
<path d="M76.40,459.25 L76.50,458.92 L76.60,458.46 L76.70,457.84 L76.80,457.08 L76.90,456.24 L77.00,455.39 L77.10,454.62 L77.20,454.04 L77.30,453.70 L77.40,453.60 L77.50,453.70 L77.60,454.04 L77.70,454.62 L77.80,455.39 L77.90,456.24 L78.00,457.08 L78.10,457.84 L78.20,458.46 L78.30,458.92 L78.40,459.25 Z" fill="#3f6aa8" stroke="none" stroke-width="1" />
<path d="M82.70,459.62 L82.83,459.56 L82.96,459.48 L83.09,459.36 L83.22,459.23 L83.35,459.08 L83.48,458.92 L83.61,458.78 L83.74,458.68 L83.87,458.62 L84.00,458.60 L84.13,458.62 L84.26,458.68 L84.39,458.78 L84.52,458.92 L84.65,459.08 L84.78,459.23 L84.91,459.36 L85.04,459.48 L85.17,459.56 L85.30,459.62 Z" fill="#5a80b8" stroke="none" stroke-width="1" />
<path d="M159.50,459.46 L159.60,459.29 L159.70,459.05 L159.80,458.72 L159.90,458.33 L160.00,457.88 L160.10,457.44 L160.20,457.04 L160.30,456.73 L160.40,456.55 L160.50,456.50 L160.60,456.55 L160.70,456.73 L160.80,457.04 L160.90,457.44 L161.00,457.88 L161.10,458.33 L161.20,458.72 L161.30,459.05 L161.40,459.29 L161.50,459.46 Z" fill="#4f7fc0" stroke="none" stroke-width="1" />
<path d="M161.40,458.93 L161.59,458.55 L161.78,458.03 L161.97,457.33 L162.16,456.43 L162.35,455.33 L162.54,454.05 L162.73,452.65 L162.92,451.25 L163.11,450.05 L163.30,449.40 L163.49,450.05 L163.68,451.25 L163.87,452.65 L164.06,454.05 L164.25,455.33 L164.44,456.43 L164.63,457.33 L164.82,458.03 L165.01,458.55 L165.20,458.93 Z" fill="#4f86c8" stroke="none" stroke-width="1" />
<path d="M167.50,459.46 L167.60,459.29 L167.70,459.05 L167.80,458.72 L167.90,458.33 L168.00,457.88 L168.10,457.44 L168.20,457.04 L168.30,456.73 L168.40,456.55 L168.50,456.50 L168.60,456.55 L168.70,456.73 L168.80,457.04 L168.90,457.44 L169.00,457.88 L169.10,458.33 L169.20,458.72 L169.30,459.05 L169.40,459.29 L169.50,459.46 Z" fill="#4f7fc0" stroke="none" stroke-width="1" />
<path d="M169.00,458.42 L169.20,457.78 L169.40,456.90 L169.60,455.72 L169.80,454.21 L170.00,452.36 L170.20,450.21 L170.40,447.85 L170.60,445.51 L170.80,443.49 L171.00,442.40 L171.20,443.49 L171.40,445.51 L171.60,447.85 L171.80,450.21 L172.00,452.36 L172.20,454.21 L172.40,455.72 L172.60,456.90 L172.80,457.78 L173.00,458.42 Z" fill="#4f86c8" stroke="none" stroke-width="1" />
<path d="M215.60,459.45 L215.80,459.27 L216.00,459.01 L216.20,458.66 L216.40,458.24 L216.60,457.77 L216.80,457.30 L217.00,456.87 L217.20,456.55 L217.40,456.36 L217.60,456.30 L217.80,456.36 L218.00,456.55 L218.20,456.87 L218.40,457.30 L218.60,457.77 L218.80,458.24 L219.00,458.66 L219.20,459.01 L219.40,459.27 L219.60,459.45 Z" fill="#5f86c0" stroke="none" stroke-width="1" />
<text x="122.35" y="448.80" font-size="9.30" fill="#72a6d6" stroke="#72a6d6" stroke-width="0.25" font-weight="normal" textLength="46.06" lengthAdjust="spacingAndGlyphs">NA-seq - ATRA</text>
<text x="25.04" y="468.10" font-size="9.30" fill="#3d6650" stroke="#3d6650" stroke-width="0.25" font-weight="normal" textLength="12.83" lengthAdjust="spacingAndGlyphs">2.7</text>
<line x1="37.6" y1="463.8" x2="42" y2="463.8" stroke="#6f8f7a" stroke-width="0.8"/>
<text x="30.99" y="483.80" font-size="9.74" fill="#4c6454" stroke="#4c6454" stroke-width="0.25" font-weight="normal" textLength="4.42" lengthAdjust="spacingAndGlyphs">0</text>
<line x1="37" y1="483.3" x2="41" y2="483.3" stroke="#6f8f7a" stroke-width="0.8"/>
<line x1="40" y1="483.4" x2="236.8" y2="483.4" stroke="#588a68" stroke-width="1.0"/>
<path d="M76.40,483.50 L76.50,483.42 L76.60,483.31 L76.70,483.17 L76.80,483.00 L76.90,482.80 L77.00,482.61 L77.10,482.44 L77.20,482.30 L77.30,482.22 L77.40,482.20 L77.50,482.22 L77.60,482.30 L77.70,482.44 L77.80,482.61 L77.90,482.80 L78.00,483.00 L78.10,483.17 L78.20,483.31 L78.30,483.42 L78.40,483.50 Z" fill="#196a2c" stroke="none" stroke-width="1" />
<path d="M83.00,483.52 L83.10,483.46 L83.20,483.38 L83.30,483.26 L83.40,483.13 L83.50,482.98 L83.60,482.82 L83.70,482.68 L83.80,482.58 L83.90,482.52 L84.00,482.50 L84.10,482.52 L84.20,482.58 L84.30,482.68 L84.40,482.82 L84.50,482.98 L84.60,483.13 L84.70,483.26 L84.80,483.38 L84.90,483.46 L85.00,483.52 Z" fill="#196a2c" stroke="none" stroke-width="1" />
<path d="M159.30,483.37 L159.42,483.21 L159.54,482.97 L159.66,482.65 L159.78,482.27 L159.90,481.84 L160.02,481.41 L160.14,481.02 L160.26,480.73 L160.38,480.55 L160.50,480.50 L160.62,480.55 L160.74,480.73 L160.86,481.02 L160.98,481.41 L161.10,481.84 L161.22,482.27 L161.34,482.65 L161.46,482.97 L161.58,483.21 L161.70,483.37 Z" fill="#196a2c" stroke="none" stroke-width="1" />
<path d="M162.00,483.22 L162.18,483.03 L162.36,482.77 L162.54,482.43 L162.72,481.98 L162.90,481.44 L163.08,480.80 L163.26,480.11 L163.44,479.42 L163.62,478.82 L163.80,478.50 L163.98,478.82 L164.16,479.42 L164.34,480.11 L164.52,480.80 L164.70,481.44 L164.88,481.98 L165.06,482.43 L165.24,482.77 L165.42,483.03 L165.60,483.22 Z" fill="#196a2c" stroke="none" stroke-width="1" />
<path d="M169.30,482.79 L169.49,482.42 L169.68,481.90 L169.87,481.22 L170.06,480.34 L170.25,479.25 L170.44,477.95 L170.63,476.49 L170.82,474.96 L171.01,473.56 L171.20,472.70 L171.39,473.56 L171.58,474.96 L171.77,476.49 L171.96,477.95 L172.15,479.25 L172.34,480.34 L172.53,481.22 L172.72,481.90 L172.91,482.42 L173.10,482.79 Z" fill="#196a2c" stroke="none" stroke-width="1" />
<path d="M215.80,482.84 L215.98,482.49 L216.16,482.01 L216.34,481.38 L216.52,480.55 L216.70,479.53 L216.88,478.32 L217.06,476.95 L217.24,475.52 L217.42,474.21 L217.60,473.40 L217.78,474.21 L217.96,475.52 L218.14,476.95 L218.32,478.32 L218.50,479.53 L218.68,480.55 L218.86,481.38 L219.04,482.01 L219.22,482.49 L219.40,482.84 Z" fill="#196a2c" stroke="none" stroke-width="1" />
<path d="M217.70,483.44 L217.88,483.33 L218.06,483.17 L218.24,482.96 L218.42,482.70 L218.60,482.41 L218.78,482.11 L218.96,481.85 L219.14,481.65 L219.32,481.53 L219.50,481.50 L219.68,481.53 L219.86,481.65 L220.04,481.85 L220.22,482.11 L220.40,482.41 L220.58,482.70 L220.76,482.96 L220.94,483.17 L221.12,483.33 L221.30,483.44 Z" fill="#196a2c" stroke="none" stroke-width="1" />
<text x="122.35" y="476.20" font-size="9.16" fill="#2b5e3e" stroke="#2b5e3e" stroke-width="0.25" font-weight="normal" textLength="46.37" lengthAdjust="spacingAndGlyphs">NA-seq +ATRA</text>
<text x="23.24" y="497.90" font-size="9.30" fill="#2e2e56" stroke="#2e2e56" stroke-width="0.25" font-weight="normal" textLength="17.15" lengthAdjust="spacingAndGlyphs">SPI1</text>
<line x1="55" y1="491.1" x2="170.3" y2="491.1" stroke="#9292ba" stroke-width="2.2"/>
<line x1="55" y1="491.1" x2="170.3" y2="491.1" stroke="#4a4a80" stroke-width="1.1"/>
<path d="M53.2,491.1 L57.0,488.8 L57.0,493.40000000000003 Z" fill="#1e1e4c" stroke="none" stroke-width="1" />
<line x1="55" y1="496.5" x2="170.3" y2="496.5" stroke="#9292ba" stroke-width="2.2"/>
<line x1="55" y1="496.5" x2="170.3" y2="496.5" stroke="#4a4a80" stroke-width="1.1"/>
<path d="M53.2,496.5 L57.0,494.2 L57.0,498.8 Z" fill="#1e1e4c" stroke="none" stroke-width="1" />
<line x1="55.8" y1="489" x2="55.8" y2="499" stroke="#1e1e4c" stroke-width="1.4"/>
<rect x="72.1" y="489.0" width="2.0" height="10.4" fill="#26265a"/>
<rect x="76.9" y="489.0" width="2.0" height="10.4" fill="#26265a"/>
<line x1="156.5" y1="488.8" x2="156.5" y2="498.8" stroke="#3a3a68" stroke-width="0.9"/>
<rect x="169.4" y="489.8" width="1.8" height="2.6" fill="#1e1e4a"/>
<rect x="169.4" y="495.2" width="1.8" height="2.6" fill="#1e1e4a"/>
<line x1="324.3" y1="328.4" x2="324.3" y2="437.6" stroke="#7f7f7f" stroke-width="1.1"/>
<line x1="324.3" y1="437.1" x2="482.6" y2="437.1" stroke="#7f7f7f" stroke-width="1.1"/>
<line x1="322.4" y1="436.9" x2="324.3" y2="436.9" stroke="#7f7f7f" stroke-width="0.9"/>
<text x="317.00" y="438.30" font-size="9.16" fill="#1a1a1a" stroke="#1a1a1a" stroke-width="0.25" font-weight="normal" textLength="4.30" lengthAdjust="spacingAndGlyphs">0</text>
<line x1="322.4" y1="419.12" x2="324.3" y2="419.12" stroke="#7f7f7f" stroke-width="0.9"/>
<text x="316.99" y="420.52" font-size="9.16" fill="#1a1a1a" stroke="#1a1a1a" stroke-width="0.25" font-weight="normal" textLength="4.34" lengthAdjust="spacingAndGlyphs">5</text>
<line x1="322.4" y1="401.34" x2="324.3" y2="401.34" stroke="#7f7f7f" stroke-width="0.9"/>
<text x="311.31" y="402.74" font-size="9.16" fill="#1a1a1a" stroke="#1a1a1a" stroke-width="0.25" font-weight="normal" textLength="10.04" lengthAdjust="spacingAndGlyphs">10</text>
<line x1="322.4" y1="383.55999999999995" x2="324.3" y2="383.55999999999995" stroke="#7f7f7f" stroke-width="0.9"/>
<text x="311.31" y="384.96" font-size="9.16" fill="#1a1a1a" stroke="#1a1a1a" stroke-width="0.25" font-weight="normal" textLength="10.07" lengthAdjust="spacingAndGlyphs">15</text>
<line x1="322.4" y1="365.78" x2="324.3" y2="365.78" stroke="#7f7f7f" stroke-width="0.9"/>
<text x="311.56" y="367.18" font-size="9.16" fill="#1a1a1a" stroke="#1a1a1a" stroke-width="0.25" font-weight="normal" textLength="9.79" lengthAdjust="spacingAndGlyphs">20</text>
<line x1="322.4" y1="348.0" x2="324.3" y2="348.0" stroke="#7f7f7f" stroke-width="0.9"/>
<text x="311.56" y="349.40" font-size="9.16" fill="#1a1a1a" stroke="#1a1a1a" stroke-width="0.25" font-weight="normal" textLength="9.81" lengthAdjust="spacingAndGlyphs">25</text>
<line x1="322.4" y1="330.21999999999997" x2="324.3" y2="330.21999999999997" stroke="#7f7f7f" stroke-width="0.9"/>
<text x="311.67" y="331.62" font-size="9.16" fill="#1a1a1a" stroke="#1a1a1a" stroke-width="0.25" font-weight="normal" textLength="9.67" lengthAdjust="spacingAndGlyphs">30</text>
<line x1="357" y1="437.1" x2="357" y2="439.3" stroke="#7f7f7f" stroke-width="0.9"/>
<line x1="387.5" y1="437.1" x2="387.5" y2="439.3" stroke="#7f7f7f" stroke-width="0.9"/>
<line x1="419.5" y1="437.1" x2="419.5" y2="439.3" stroke="#7f7f7f" stroke-width="0.9"/>
<line x1="451.1" y1="437.1" x2="451.1" y2="439.3" stroke="#7f7f7f" stroke-width="0.9"/>
<line x1="482.6" y1="437.1" x2="482.6" y2="439.3" stroke="#7f7f7f" stroke-width="0.9"/>
<text transform="translate(308.80 398.28) rotate(-90)" x="0" y="0" font-size="9.30" fill="#1a1a1a" stroke="#1a1a1a" stroke-width="0.25" font-weight="normal" textLength="32.40" lengthAdjust="spacingAndGlyphs">% of total</text>
<text x="333.22" y="444.90" font-size="9.16" fill="#141414" stroke="#141414" stroke-width="0.25" font-weight="normal" textLength="16.58" lengthAdjust="spacingAndGlyphs">DR1</text>
<text x="366.43" y="444.90" font-size="9.16" fill="#141414" stroke="#141414" stroke-width="0.25" font-weight="normal" textLength="16.38" lengthAdjust="spacingAndGlyphs">DR2</text>
<text x="395.68" y="444.90" font-size="9.16" fill="#141414" stroke="#141414" stroke-width="0.25" font-weight="normal" textLength="17.61" lengthAdjust="spacingAndGlyphs">DR3</text>
<text x="429.51" y="444.90" font-size="9.16" fill="#141414" stroke="#141414" stroke-width="0.25" font-weight="normal" textLength="16.94" lengthAdjust="spacingAndGlyphs">DR4</text>
<text x="456.30" y="444.90" font-size="9.16" fill="#141414" stroke="#141414" stroke-width="0.25" font-weight="normal" textLength="16.95" lengthAdjust="spacingAndGlyphs">DR5</text>
<path d="M340.7,355.8 L372.4,384.7 L404.0,389.9 L435.4,357.7 L466.9,376.2" fill="none" stroke="#3f6eb0" stroke-width="2.1" stroke-linejoin="round"/>
<path d="M340.7,380.4 L372.4,334.5 L403.9,367.2 L435.4,372.6 L466.9,364.3" fill="none" stroke="#3f4c22" stroke-width="2.3" stroke-linejoin="round"/>
<path d="M340.7,353.40000000000003 L343.09999999999997,355.8 L340.7,358.2 L338.3,355.8 Z" fill="#3f6eb0" stroke="none" stroke-width="1" />
<path d="M372.4,382.3 L374.79999999999995,384.7 L372.4,387.09999999999997 L370.0,384.7 Z" fill="#3f6eb0" stroke="none" stroke-width="1" />
<path d="M404.0,387.5 L406.4,389.9 L404.0,392.29999999999995 L401.6,389.9 Z" fill="#3f6eb0" stroke="none" stroke-width="1" />
<path d="M435.4,355.3 L437.79999999999995,357.7 L435.4,360.09999999999997 L433.0,357.7 Z" fill="#3f6eb0" stroke="none" stroke-width="1" />
<path d="M466.9,373.8 L469.29999999999995,376.2 L466.9,378.59999999999997 L464.5,376.2 Z" fill="#3f6eb0" stroke="none" stroke-width="1" />
<rect x="338.3" y="378.0" width="4.8" height="4.8" fill="#3f4c22"/>
<rect x="370.0" y="332.1" width="4.8" height="4.8" fill="#3f4c22"/>
<rect x="401.5" y="364.8" width="4.8" height="4.8" fill="#3f4c22"/>
<rect x="433.0" y="370.20000000000005" width="4.8" height="4.8" fill="#3f4c22"/>
<rect x="464.5" y="361.90000000000003" width="4.8" height="4.8" fill="#3f4c22"/>
<line x1="402.7" y1="402.3" x2="425.8" y2="402.3" stroke="#4a7cc0" stroke-width="2.2"/>
<path d="M414.2,398.90000000000003 L417.59999999999997,402.3 L414.2,405.7 L410.8,402.3 Z" fill="#3f6eb0" stroke="none" stroke-width="1" />
<text x="427.53" y="405.00" font-size="8.43" fill="#141414" stroke="#141414" stroke-width="0.25" font-weight="normal" textLength="34.28" lengthAdjust="spacingAndGlyphs">NB4-ATRA</text>
<line x1="402.7" y1="412.3" x2="426.5" y2="412.3" stroke="#4f6a2c" stroke-width="2.6"/>
<rect x="411.0" y="409.2" width="6.4" height="6.4" fill="#4f6a2c"/>
<text x="428.74" y="415.60" font-size="8.58" fill="#141414" stroke="#141414" stroke-width="0.25" font-weight="normal" textLength="35.37" lengthAdjust="spacingAndGlyphs">NB4+ATRA</text>
</g>
</svg></body></html>
